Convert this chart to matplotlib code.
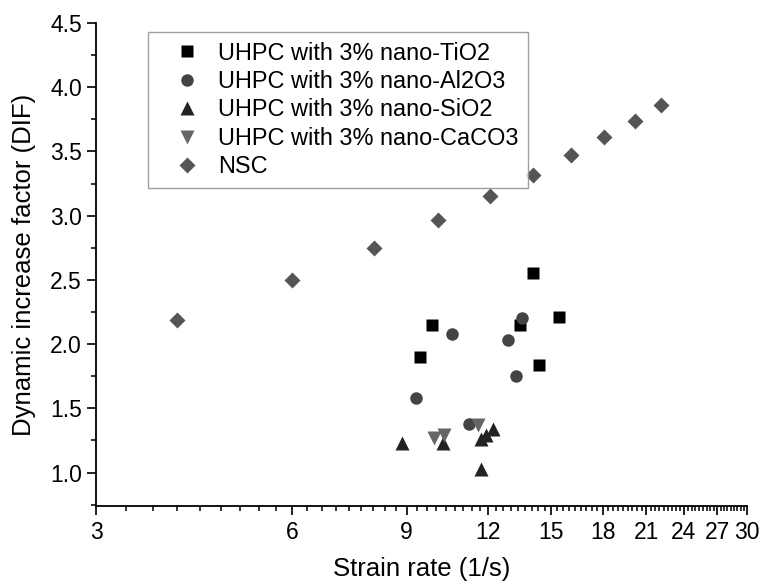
import matplotlib
matplotlib.use('Agg')
import matplotlib.pyplot as plt
import numpy as np
from matplotlib.ticker import FixedLocator, FixedFormatter, MultipleLocator

plt.rcParams['font.family'] = ['Liberation Sans', 'DejaVu Sans']

# strain rate (1/s) and DIF per series
tio2_x = [14.06, 9.84, 13.43, 15.44, 9.44, 14.38]
tio2_y = [2.55, 2.15, 2.15, 2.21, 1.90, 1.84]

al2o3_x = [13.54, 10.56, 12.87, 13.27, 9.29, 11.22]
al2o3_y = [2.20, 2.08, 2.03, 1.75, 1.58, 1.38]

sio2_x = [8.85, 10.25, 11.71, 11.90, 12.23, 11.71]
sio2_y = [1.23, 1.23, 1.26, 1.29, 1.34, 1.03]

caco3_x = [9.93, 10.28, 11.60]
caco3_y = [1.27, 1.29, 1.37]

nsc_x = [4.0, 6.0, 8.03, 10.05, 12.07, 14.09, 16.1, 18.09, 20.2, 22.1]
nsc_y = [2.19, 2.50, 2.75, 2.97, 3.15, 3.32, 3.47, 3.61, 3.74, 3.86]

x_ticks = [3, 6, 9, 12, 15, 18, 21, 24, 27, 30]

fig = plt.figure(figsize=(7.61, 5.86), dpi=100)
ax = fig.add_axes([96 / 761, 1 - 506 / 586, 651 / 761, 483 / 586])

ax.plot(tio2_x, tio2_y, 's', color='#000000', ms=8.4, mec='none', label='UHPC with 3% nano-TiO2')
ax.plot(al2o3_x, al2o3_y, 'o', color='#444444', ms=9, mec='none', label='UHPC with 3% nano-Al2O3')
ax.plot(sio2_x, sio2_y, '^', color='#222222', ms=10.5, mec='none', label='UHPC with 3% nano-SiO2')
ax.plot(caco3_x, caco3_y, 'v', color='#666666', ms=10.5, mec='none', label='UHPC with 3% nano-CaCO3')
ax.plot(nsc_x, nsc_y, 'D', color='#555555', ms=8, mec='none', label='NSC')

ax.set_xscale('log')
ax.set_xlim(3, 30)
ax.set_ylim(0.74, 4.5)

ax.xaxis.set_major_locator(FixedLocator(x_ticks))
ax.xaxis.set_major_formatter(FixedFormatter([str(t) for t in x_ticks]))
ax.xaxis.set_minor_locator(FixedLocator(np.arange(3, 30.01, 1 / 3)))
ax.xaxis.set_minor_formatter(FixedFormatter([]))
ax.yaxis.set_major_locator(MultipleLocator(0.5))
ax.yaxis.set_minor_locator(MultipleLocator(0.25))
ax.yaxis.set_major_formatter(matplotlib.ticker.FormatStrFormatter('%.1f'))

for s in ['top', 'right']:
    ax.spines[s].set_visible(False)
for s in ['left', 'bottom']:
    ax.spines[s].set_linewidth(1.3)

ax.tick_params(which='major', direction='out', length=6.5, width=1.3, labelsize=16.5, color='#111111')
ax.tick_params(which='minor', direction='out', length=3.6, width=1.2, color='#111111')
ax.tick_params(axis='x', which='major', pad=4)

ax.set_xlabel('Strain rate (1/s)', fontsize=18.5, labelpad=10)
ax.set_ylabel('Dynamic increase factor (DIF)', fontsize=18.5, labelpad=10)

leg = ax.legend(loc='upper left', bbox_to_anchor=(0.08, 0.981), fontsize=16.9,
                frameon=True, fancybox=False, borderpad=0.4, labelspacing=0.23,
                handletextpad=0.1, handlelength=2.5, borderaxespad=0)
leg.get_frame().set_edgecolor('#888888')
leg.get_frame().set_linewidth(1.0)

fig.savefig('out.png', dpi=100)
